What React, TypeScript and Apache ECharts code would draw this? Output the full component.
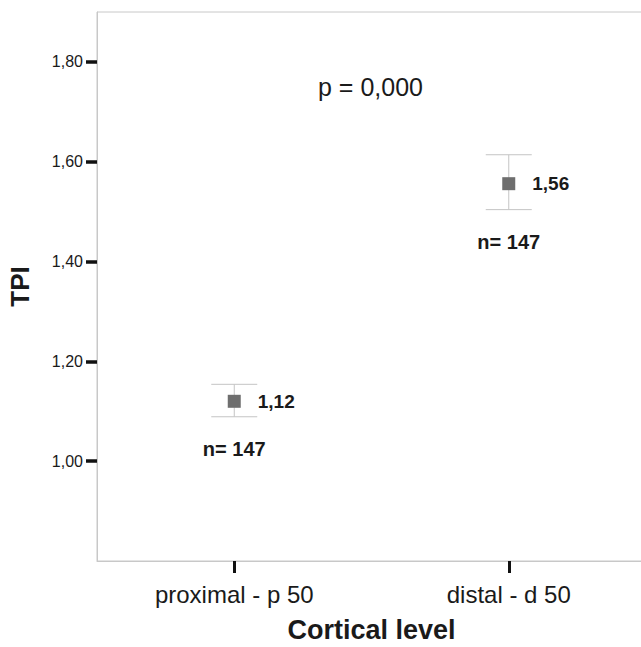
import React, { useEffect, useRef } from "react";
import * as echarts from "echarts";

const categories = ["proximal - p 50", "distal - d 50"];
const means = [1.12, 1.556];
const lowerCI = [1.089, 1.504];
const upperCI = [1.154, 1.614];
const nCounts = [147, 147];
const yTicks = [1.0, 1.2, 1.4, 1.6, 1.8];
const pText = "p = 0,000";

const FONT = "'Liberation Sans', Arial, sans-serif";
const fmt = (v: number) => v.toFixed(2).replace(".", ",");

export default function App() {
  const ref = useRef<HTMLDivElement>(null);
  useEffect(() => {
    if (!ref.current) return;
    const chart = echarts.init(ref.current, null, { renderer: "svg" });
    const option: any = {
      animation: false,
      backgroundColor: "#ffffff",
      grid: {
        left: 97,
        right: -5,
        top: 12,
        bottom: 86,
        outerBoundsMode: "none",
        containLabel: false,
        show: true,
        borderColor: "#c8c8c8",
        borderWidth: 1,
        backgroundColor: "transparent",
      },
      xAxis: {
        type: "category",
        data: categories,
        boundaryGap: true,
        name: "Cortical level",
        nameLocation: "middle",
        nameGap: 55,
        nameTextStyle: { fontFamily: FONT, fontSize: 27, fontWeight: "bold", color: "#1a1a1a" },
        axisLine: { show: true, lineStyle: { color: "#c8c8c8", width: 1 } },
        axisTick: {
          show: true,
          interval: 0,
          alignWithLabel: true,
          length: 12,
          lineStyle: { color: "#111", width: 3 },
        },
        axisLabel: { margin: 21, interval: 0, fontFamily: FONT, fontSize: 24, color: "#1a1a1a" },
        splitLine: { show: false },
      },
      yAxis: {
        type: "value",
        min: 0.8,
        max: 1.9,
        name: "TPI",
        nameLocation: "middle",
        nameRotate: 90,
        nameGap: 64,
        nameTextStyle: { fontFamily: FONT, fontSize: 26, fontWeight: "bold", color: "#1a1a1a" },
        axisLine: { show: true, lineStyle: { color: "#c8c8c8", width: 1 } },
        axisTick: { show: true, length: 11, customValues: yTicks, lineStyle: { color: "#111", width: 3.5 } },
        axisLabel: {
          margin: 14,
          customValues: yTicks,
          fontFamily: FONT,
          fontSize: 16,
          color: "#1a1a1a",
          formatter: (v: number) => fmt(v),
        },
        splitLine: { show: false },
      },
      graphic: [
        {
          type: "text",
          left: 318,
          top: 74,
          style: { text: pText, fontFamily: FONT, fontSize: 25, fill: "#1a1a1a" },
        },
      ],
      series: [
        {
          type: "custom",
          z: 2,
          data: categories.map((c, i) => [i, lowerCI[i], upperCI[i], nCounts[i]]),
          renderItem: (params: any, api: any) => {
            const i = api.value(0);
            const lo = api.coord([i, api.value(1)]);
            const hi = api.coord([i, api.value(2)]);
            const half = 23;
            const style = { stroke: "#c4c4c4", lineWidth: 1 };
            return {
              type: "group",
              children: [
                { type: "line", shape: { x1: lo[0], y1: lo[1], x2: hi[0], y2: hi[1] }, style },
                { type: "line", shape: { x1: lo[0] - half, y1: lo[1], x2: lo[0] + half, y2: lo[1] }, style },
                { type: "line", shape: { x1: hi[0] - half, y1: hi[1], x2: hi[0] + half, y2: hi[1] }, style },
                {
                  type: "text",
                  x: lo[0],
                  y: lo[1] + 32,
                  style: {
                    text: "n= " + api.value(3),
                    fontFamily: FONT,
                    fontSize: 20,
                    fontWeight: "bold",
                    fill: "#1a1a1a",
                    align: "center",
                    verticalAlign: "middle",
                  },
                },
              ],
            };
          },
        },
        {
          type: "scatter",
          z: 3,
          symbol: "rect",
          symbolSize: 13,
          itemStyle: { color: "#6e6e6e", opacity: 1 },
          data: categories.map((c, i) => [i, means[i]]),
          label: {
            show: true,
            position: "right",
            distance: 17,
            fontFamily: FONT,
            fontSize: 19,
            fontWeight: "bold",
            color: "#1a1a1a",
            formatter: (p: any) => fmt(p.value[1]),
          },
        },
      ],
    };
    chart.setOption(option);
    return () => chart.dispose();
  }, []);
  return <div ref={ref} style={{ width: 641, height: 647, position: "absolute", left: 0, top: 0 }} />;
}
